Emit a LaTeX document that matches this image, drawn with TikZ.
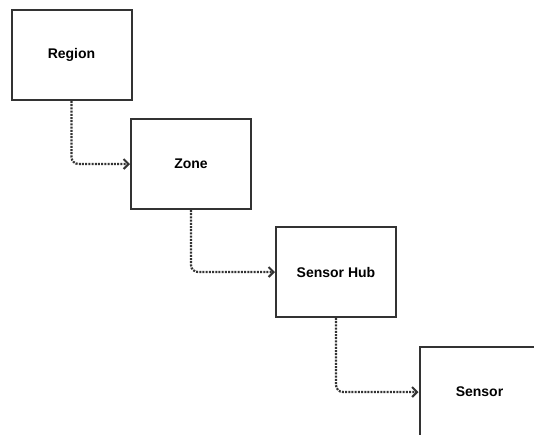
\documentclass[tikz,border=0pt]{standalone}
\usepackage{fontspec}
\setmainfont{Liberation Sans}
\usetikzlibrary{arrows.meta}

\begin{document}
\begin{tikzpicture}[x=1pt, y=-1pt]

    \tikzset{
        level/.style={draw=black!80, line width=2pt, minimum width=120pt, minimum height=90pt,
            inner sep=0pt, font=\bfseries\fontsize{14}{16}\selectfont},
        link/.style={draw=black!80, line width=2.2pt, dash pattern=on 2pt off 1.2pt, rounded corners=7pt,
            -{Straight Barb[length=5pt, width=10pt, line width=2pt]}}
    }
    \clip (0,0) rectangle (534,434);

    \node[level] (region) at (71.5, 55) {Region};
    \node[level] (zone) at (191, 164) {Zone};
    \node[level] (hub) at (336, 272) {Sensor Hub};
    \node[level] (sensor) at (479.5, 392) {Sensor};

    \draw[link] (region.south) |- (zone.west);
    \draw[link] (zone.south) |- (hub.west);
    \draw[link] (hub.south) |- (sensor.west);

\end{tikzpicture}
\end{document}
